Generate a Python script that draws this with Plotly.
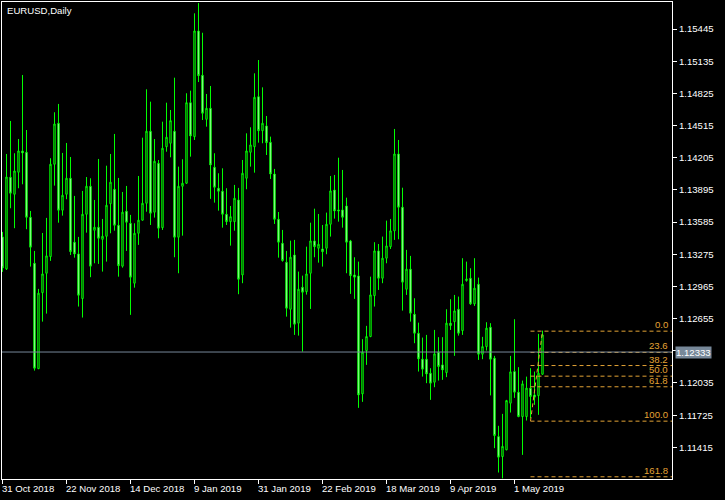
import plotly.graph_objects as go

# ---- data (EURUSD daily) ----
opens = [1.13442,1.13134,1.14017,1.13853,1.14065,1.14270,1.14257,1.13631,1.13188,1.12173,
         1.12905,1.13092,1.13252,1.14142,1.14537,1.13699,1.13853,1.14007,1.13391,1.13278,
         1.12848,1.13660,1.13930,1.13506,1.13535,1.13419,1.13448,1.13762,1.13901,1.13554,
         1.13160,1.13690,1.13573,1.12996,1.13477,1.13603,1.13766,1.14460,1.13680,1.14151,
         1.13531,1.14311,1.14344,1.14460,1.13439,1.13930,1.13959,1.14735,1.14408,1.15426,
         1.14999,1.14575,1.14681,1.14113,1.13911,1.13882,1.13660,1.13589,1.13589,1.13798,
         1.13076,1.14007,1.14257,1.14311,1.14793,1.14465,1.14511,1.14354,1.14048,1.13612,
         1.13381,1.13198,1.12745,1.13268,1.12611,1.12957,1.12915,1.13092,1.13403,1.13333,
         1.13326,1.13333,1.13564,1.13894,1.13702,1.13702,1.13740,1.13403,1.13076,1.13066,
         1.11930,1.12347,1.12482,1.12876,1.13307,1.13044,1.13237,1.13348,1.13500,1.14241,
         1.13728,1.12938,1.13131,1.12697,1.12514,1.12264,1.12264,1.12129,1.12042,1.12331,
         1.12209,1.12135,1.12611,1.12626,1.12745,1.12539,1.13021,1.13044,1.12797,1.12986,
         1.12312,1.12385,1.12572,1.12274,1.11518,1.11326,1.11391,1.11840,1.12145,1.11946,
         1.11711,1.11711,1.11985,1.11920,1.11913,1.12119]
highs = [1.13490,1.14241,1.14559,1.14248,1.14385,1.15002,1.14472,1.13692,1.13307,1.12941,
         1.13480,1.13625,1.14200,1.14643,1.14723,1.14251,1.14347,1.14212,1.13837,1.13442,
         1.13885,1.14019,1.14007,1.13798,1.14193,1.13615,1.14128,1.14241,1.14434,1.14010,
         1.13875,1.13933,1.13654,1.13573,1.14029,1.14398,1.14864,1.14745,1.14385,1.14183,
         1.14552,1.14735,1.14665,1.14976,1.14119,1.14190,1.14826,1.14851,1.15596,1.15695,
         1.15409,1.14819,1.14896,1.14248,1.14055,1.14103,1.13911,1.13740,1.13943,1.13914,
         1.14183,1.14440,1.14498,1.15018,1.15146,1.14883,1.14607,1.14408,1.14097,1.13682,
         1.13509,1.13307,1.13406,1.13413,1.13108,1.13069,1.13348,1.13579,1.13714,1.13663,
         1.13557,1.13676,1.14029,1.14039,1.14205,1.14087,1.13820,1.13413,1.13246,1.13204,
         1.12457,1.12585,1.13059,1.13391,1.13374,1.13445,1.13599,1.13615,1.14482,1.14376,
         1.13916,1.13317,1.13259,1.12851,1.12616,1.12472,1.12498,1.12177,1.12546,1.12476,
         1.12476,1.12745,1.12842,1.12883,1.12867,1.13237,1.13204,1.13140,1.13237,1.13050,
         1.12479,1.12620,1.12611,1.12296,1.11622,1.11737,1.11872,1.12296,1.12649,1.12187,
         1.12058,1.12096,1.12177,1.12145,1.12508,1.12539]
lows = [1.13105,1.13124,1.13718,1.13526,1.13911,1.13949,1.13516,1.13156,1.12154,1.12168,
        1.12626,1.12703,1.13211,1.13936,1.13579,1.13647,1.13805,1.13268,1.13242,1.12771,
        1.12665,1.13483,1.13054,1.13188,1.13182,1.13108,1.13204,1.13477,1.13502,1.13059,
        1.13146,1.13307,1.12691,1.12953,1.13365,1.13599,1.13685,1.13557,1.13628,1.13429,
        1.13509,1.14263,1.14209,1.13246,1.13092,1.13454,1.13952,1.14215,1.14376,1.14934,
        1.14568,1.14504,1.13808,1.13772,1.13695,1.13531,1.13557,1.13358,1.13502,1.12890,
        1.12996,1.13901,1.14119,1.14061,1.14350,1.14344,1.14231,1.14000,1.13567,1.13242,
        1.13204,1.12674,1.12568,1.12498,1.12491,1.12337,1.12886,1.12748,1.13246,1.13194,
        1.13156,1.13275,1.13445,1.13618,1.13589,1.13531,1.13092,1.12893,1.12845,1.11795,
        1.11853,1.12209,1.12476,1.12771,1.12931,1.12996,1.13188,1.13326,1.13413,1.13419,
        1.12732,1.12883,1.12626,1.12418,1.12145,1.12096,1.12033,1.11872,1.11994,1.12058,
        1.12065,1.12091,1.12546,1.12296,1.12491,1.12498,1.13011,1.12787,1.12777,1.12257,
        1.12264,1.12347,1.11915,1.11407,1.11172,1.11116,1.11386,1.11750,1.11891,1.11705,
        1.11342,1.11673,1.11696,1.11824,1.11728,1.12113]
closes = [1.13143,1.14019,1.13863,1.14077,1.14270,1.14251,1.13631,1.13343,1.12177,1.12900,
          1.13085,1.13259,1.14142,1.14530,1.13699,1.13843,1.14007,1.13300,1.13278,1.12880,
          1.13660,1.13930,1.13160,1.13535,1.13429,1.13448,1.13747,1.13969,1.13554,1.13165,
          1.13680,1.13583,1.13054,1.13477,1.13603,1.13766,1.14460,1.13670,1.14171,1.13526,
          1.14296,1.14402,1.14562,1.13439,1.13930,1.13959,1.14735,1.14414,1.15426,1.14995,
          1.14633,1.14681,1.14135,1.13920,1.13882,1.13660,1.13589,1.13637,1.13814,1.13034,
          1.14055,1.14270,1.14328,1.14787,1.14465,1.14537,1.14350,1.14048,1.13612,1.13391,
          1.13214,1.12755,1.13246,1.12601,1.12938,1.12909,1.13085,1.13403,1.13348,1.13371,
          1.13300,1.13564,1.13885,1.13692,1.13692,1.13631,1.13391,1.13069,1.13054,1.11920,
          1.12331,1.12482,1.12883,1.13307,1.13044,1.13237,1.13355,1.13500,1.14241,1.13728,
          1.13006,1.13131,1.12707,1.12514,1.12267,1.12168,1.12122,1.12033,1.12315,1.12193,
          1.12161,1.12611,1.12588,1.12729,1.12514,1.12986,1.13037,1.12797,1.12948,1.12312,
          1.12385,1.12563,1.12264,1.11528,1.11320,1.11424,1.11865,1.12142,1.11946,1.11711,
          1.12026,1.11985,1.11904,1.11898,1.12129,1.12498]
bars = list(range(len(opens)))

date_tick_bars = [0, 16, 32, 48, 64, 80, 96, 112, 128]
date_tick_labels = ["31 Oct 2018", "22 Nov 2018", "14 Dec 2018", "9 Jan 2019", "31 Jan 2019",
                    "22 Feb 2019", "18 Mar 2019", "9 Apr 2019", "1 May 2019"]
price_ticks = [1.15445, 1.15135, 1.14825, 1.14515, 1.14205, 1.13895, 1.13585,
               1.13275, 1.12965, 1.12655, 1.12345, 1.12035, 1.11725, 1.11415]
price_tick_labels = ["1.15445", "1.15135", "1.14825", "1.14515", "1.14205", "1.13895", "1.13585",
                     "1.13275", "1.12965", "1.12655", "", "1.12035", "1.11725", "1.11415"]
bid_price = 1.12333

fib_bar_start = 132
fib_bar_end = 135
fib_price_100 = 1.11667
fib_price_0 = 1.12534
fib_ratios = [0.0, 23.6, 38.2, 50.0, 61.8, 100.0, 161.8]
fib_labels = ["0.0", "23.6", "38.2", "50.0", "61.8", "100.0", "161.8"]

# ---- styling ----
FONT = "Liberation Sans"
FS = 9.6
FIB_COLOR = "#E3A335"
X_RANGE = [-0.125, 167.375]   # 4 px per bar, bars centred on pixel columns
Y_RANGE = [1.111097, 1.157051]

fig = go.Figure()
fig.add_trace(go.Candlestick(
    x=bars, open=opens, high=highs, low=lows, close=closes,
    increasing=dict(line=dict(color="#00FF00", width=1), fillcolor="#000000"),
    decreasing=dict(line=dict(color="#00FF00", width=1), fillcolor="#FFFFFF"),
    whiskerwidth=0, hoverinfo="skip", showlegend=False,
))

# fibonacci base line
fig.add_trace(go.Scatter(
    x=[fib_bar_start, fib_bar_end], y=[fib_price_100, fib_price_0], mode="lines",
    line=dict(color=FIB_COLOR, width=1, dash="4px,3px"), hoverinfo="skip", showlegend=False,
))

rng = fib_price_0 - fib_price_100
for r, lab in zip(fib_ratios, fib_labels):
    lvl = fib_price_0 - rng * r / 100.0
    fig.add_shape(type="line", xref="x", yref="y", x0=fib_bar_start, x1=X_RANGE[1],
                  y0=lvl, y1=lvl, line=dict(color=FIB_COLOR, width=1, dash="4px,3px"))
    fig.add_annotation(x=X_RANGE[1], y=lvl, xref="x", yref="y", text=lab, showarrow=False,
                       xanchor="right", yanchor="bottom", xshift=-2, yshift=-1,
                       font=dict(family=FONT, size=FS, color=FIB_COLOR))

# bid line
fig.add_shape(type="line", xref="paper", yref="y", x0=0, x1=1, y0=bid_price, y1=bid_price,
              line=dict(color="#778899", width=1))
fig.add_annotation(x=1, y=bid_price, xref="paper", yref="y", text=f"{bid_price:.5f}",
                   showarrow=False, xanchor="left", yanchor="middle", xshift=3,
                   bgcolor="#778899", borderpad=0,
                   font=dict(family=FONT, size=FS, color="#FFFFFF"))

# date labels (left-aligned at their ticks, MetaTrader style)
for b, lab in zip(date_tick_bars, date_tick_labels):
    fig.add_annotation(x=b, y=0, xref="x", yref="paper", text=lab, showarrow=False,
                       xanchor="left", yanchor="top", xshift=-3, yshift=-2,
                       font=dict(family=FONT, size=FS, color="#FFFFFF"))

# title
fig.add_annotation(x=0, y=1, xref="paper", yref="paper", text="EURUSD,Daily", showarrow=False,
                   xanchor="left", yanchor="top", xshift=3, yshift=-1,
                   font=dict(family=FONT, size=FS, color="#FFFFFF"))

fig.update_layout(
    width=725, height=500,
    margin=dict(l=2, r=53, t=2, b=21),
    paper_bgcolor="#000000", plot_bgcolor="#000000",
    boxgap=0.5,
    showlegend=False,
    xaxis=dict(range=X_RANGE, rangeslider=dict(visible=False), showgrid=False, zeroline=False,
               tickmode="array", tickvals=date_tick_bars, ticktext=[""] * len(date_tick_bars),
               ticks="outside", ticklen=4, tickcolor="#FFFFFF", tickwidth=1,
               showline=True, linecolor="#FFFFFF", linewidth=1, mirror=True, fixedrange=True),
    yaxis=dict(range=Y_RANGE, side="right", showgrid=False, zeroline=False,
               tickmode="array", tickvals=price_ticks, ticktext=price_tick_labels,
               ticks="outside", ticklen=4, tickcolor="#FFFFFF", tickwidth=1,
               tickfont=dict(family=FONT, size=FS, color="#FFFFFF"),
               showline=True, linecolor="#FFFFFF", linewidth=1, mirror=True,
               automargin=False, fixedrange=True),
)

fig.write_html("out.html", config={"displayModeBar": False},
               post_script="document.body.style.margin='0';document.body.style.background='#000';")
